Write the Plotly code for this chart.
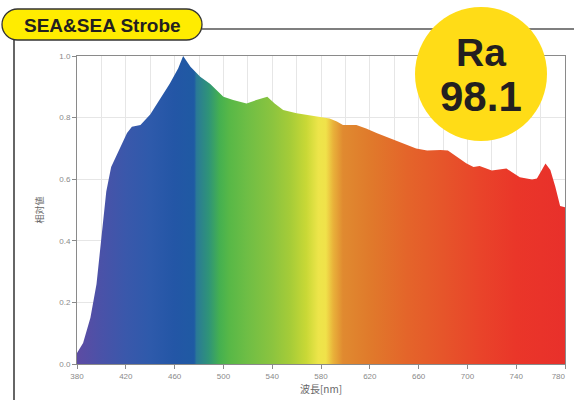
import plotly.graph_objects as go

# ---- data ----
wavelength_nm = [380, 385, 391, 396, 400, 404, 408, 414, 421, 425, 432, 440, 448, 456, 463, 467,
                 473, 481, 489, 494, 500, 508, 519, 527, 536, 542, 549, 560, 571, 579, 587, 593,
                 598, 609, 617, 626, 637, 647, 658, 667, 678, 684, 691, 699, 705, 710, 720, 727,
                 732, 736, 743, 753, 757, 761, 764, 768, 772, 776, 780]
relative_value = [0.036, 0.068, 0.15, 0.26, 0.41, 0.56, 0.64, 0.69, 0.75, 0.77, 0.776, 0.81, 0.86,
                  0.91, 0.96, 1.0, 0.965, 0.933, 0.91, 0.89, 0.868, 0.857, 0.846, 0.857, 0.868,
                  0.846, 0.825, 0.814, 0.808, 0.803, 0.797, 0.787, 0.776, 0.776, 0.765, 0.749,
                  0.733, 0.716, 0.70, 0.693, 0.695, 0.693, 0.673, 0.652, 0.64, 0.643, 0.628,
                  0.632, 0.635, 0.624, 0.606, 0.599, 0.602, 0.63, 0.651, 0.63, 0.576, 0.513, 0.509]
x_ticks = [380, 420, 460, 500, 540, 580, 620, 660, 700, 740, 780]
x_tick_labels = ["380", "420", "460", "500", "540", "580", "620", "660", "700", "740",
                 "780\u00a0\u00a0\u00a0\u00a0\u00a0\u00a0"]
y_ticks = [0.0, 0.2, 0.4, 0.6, 0.8, 1.0]
title_text = "SEA&SEA Strobe"
ra_label = "Ra"
ra_value = "98.1"
x_title = "波長[nm]"
y_title = "相対値"

# spectrum colour stops (wavelength, colour)
spectrum_stops = [(380, "#5d4ba3"), (400, "#4a52a8"), (420, "#3a58ab"), (440, "#2e5aab"),
                  (460, "#2356a6"), (476, "#1f5aa3"), (478, "#2a7a96"), (488, "#2f9478"),
                  (497, "#45b050"), (505, "#58b847"), (520, "#6fbe45"), (540, "#8bc43f"),
                  (555, "#a6cc38"), (568, "#c9d836"), (578, "#ede54a"), (584, "#f0e24a"),
                  (590, "#e9b23a"), (598, "#e08a30"), (620, "#e07a2b"), (650, "#e4652a"),
                  (680, "#e6552a"), (710, "#e9442a"), (740, "#ea3629"), (780, "#e8302b")]

lo, hi = wavelength_nm[0], wavelength_nm[-1]
colorscale = [[(w - lo) / (hi - lo), c] for w, c in spectrum_stops]

W, H = 574, 400
L, R, T, B = 77, 9, 56, 36
PW, PH = W - L - R, H - T - B


def px(x):
    return (x - L) / PW


def py(y):
    return (H - B - y) / PH


fig = go.Figure()
fig.add_trace(go.Scatter(
    x=wavelength_nm, y=relative_value, mode="lines", fill="tozeroy",
    line=dict(width=0, color="rgba(0,0,0,0)"),
    fillgradient=dict(type="horizontal", colorscale=colorscale, start=lo, stop=hi),
    hoverinfo="skip", showlegend=False,
))

# pill path in pixel space
k = 0.5523
r = 15.5
cy = 24.5
lx, rx = 17.5, 186.5
top, bot = 9, 40
pts = [
    ("M", [(lx, top)]),
    ("L", [(rx, top)]),
    ("C", [(rx + k * r, top), (rx + r, cy - k * r), (rx + r, cy)]),
    ("C", [(rx + r, cy + k * r), (rx + k * r, bot), (rx, bot)]),
    ("L", [(lx, bot)]),
    ("C", [(lx - k * r, bot), (lx - r, cy + k * r), (lx - r, cy)]),
    ("C", [(lx - r, cy - k * r), (lx - k * r, top), (lx, top)]),
]
path = ""
for cmd, ps in pts:
    path += cmd + " " + " ".join(f"{px(a):.5f},{py(b):.5f}" for a, b in ps) + " "
path += "Z"

shapes = [
    dict(type="line", xref="paper", yref="paper", x0=px(202), x1=px(575), y0=py(29), y1=py(29),
         line=dict(color="#555555", width=1.5), layer="above"),
    dict(type="line", xref="paper", yref="paper", x0=px(14), x1=px(14), y0=py(39), y1=py(401),
         line=dict(color="#333333", width=1.5), layer="above"),
    dict(type="path", xref="paper", yref="paper", path=path, fillcolor="#ffec00",
         line=dict(color="#333333", width=1.3), layer="above"),
    dict(type="circle", xref="paper", yref="paper", x0=px(415), x1=px(547), y0=py(141), y1=py(7),
         fillcolor="#ffdc17", line=dict(width=0), layer="above"),
]

annotations = [
    dict(text=f"<b>{title_text}</b>", xref="paper", yref="paper", x=px(102), y=py(25),
         xanchor="center", yanchor="middle", showarrow=False,
         font=dict(family="Liberation Sans, Arial", size=19, color="#231f20")),
    dict(text=f"<b>{ra_label}</b>", xref="paper", yref="paper", x=px(481), y=py(53),
         xanchor="center", yanchor="middle", showarrow=False,
         font=dict(family="Liberation Sans, Arial", size=39, color="#231f20")),
    dict(text=f"<b>{ra_value}</b>", xref="paper", yref="paper", x=px(481), y=py(96),
         xanchor="center", yanchor="middle", showarrow=False,
         font=dict(family="Liberation Sans, Arial", size=42, color="#231f20")),
]

axis_common = dict(showline=True, linecolor="#8a8a8a", linewidth=1, mirror=True,
                   ticks="outside", ticklen=4, tickcolor="#8a8a8a", automargin=False,
                   ticklabeloverflow="allow",
                   tickfont=dict(family="Liberation Sans, Arial", size=8, color="#8a8a8a"),
                   gridcolor="#e6e6e6", gridwidth=1, zeroline=False)

fig.update_layout(
    width=W, height=H, autosize=False, margin=dict(l=L, r=R, t=T, b=B),
    paper_bgcolor="white", plot_bgcolor="white",
    shapes=shapes, annotations=annotations,
    xaxis=dict(range=[lo, hi], tickvals=x_ticks, ticktext=x_tick_labels, **axis_common,
               minor=dict(dtick=20, tick0=380, showgrid=True, gridcolor="#e6e6e6", ticks=""),
               title=dict(text=x_title, standoff=4,
                          font=dict(family="Noto Sans CJK JP", size=10, color="#666666"))),
    yaxis=dict(range=[0, 1.0], tickvals=y_ticks, tickformat=".1f", **axis_common,
               title=dict(text=y_title, standoff=14,
                          font=dict(family="Noto Sans CJK JP", size=9, color="#666666"))),
)

fig.write_html("out.html",
               config={"displayModeBar": False},
               post_script="document.body.style.margin='0';")
